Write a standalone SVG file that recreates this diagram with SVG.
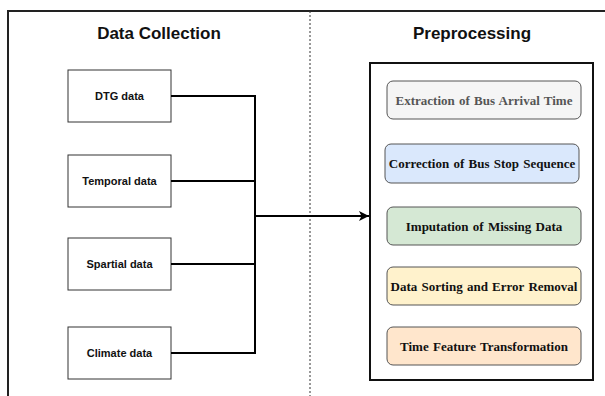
<svg xmlns="http://www.w3.org/2000/svg" width="605" height="396" viewBox="0 0 605 396">
<defs>
<marker id="arr" viewBox="0 0 10 10" refX="10" refY="5" markerWidth="10" markerHeight="10" markerUnits="userSpaceOnUse" orient="auto">
<path d="M0,0 L10,5 L0,10 L2.5,5 Z" fill="#000"/>
</marker>
<style>
.title{font-family:"Liberation Sans",Arial,sans-serif;font-weight:bold;font-size:17px;fill:#111;text-anchor:middle}
.src rect{fill:#fff;stroke:#333;stroke-width:1}
.src text{font-family:"Liberation Sans",Arial,sans-serif;font-weight:bold;font-size:11px;fill:#111;text-anchor:middle}
.step rect{stroke:#555;stroke-width:1}
.step text{font-family:"Liberation Serif","Times New Roman",serif;font-weight:bold;font-size:13px;word-spacing:1px;fill:#111;text-anchor:middle}
.conn{fill:none;stroke:#000;stroke-width:2}
</style>
</defs>
<rect width="605" height="396" fill="#fff"/>
<path d="M8,396 L8,11 L605,11" fill="none" stroke="#222" stroke-width="2"/>
<line x1="310" y1="11" x2="310" y2="396" stroke="#333" stroke-width="1" stroke-dasharray="2,2"/>
<text class="title" x="159" y="39">Data Collection</text>
<text class="title" x="472" y="39">Preprocessing</text>

<g id="dtg" class="src"><rect x="68" y="70" width="103" height="52"/><text x="119.5" y="100">DTG data</text></g>
<g id="temporal" class="src"><rect x="68" y="155" width="103" height="52"/><text x="119.5" y="185">Temporal data</text></g>
<g id="spatial" class="src"><rect x="68" y="238" width="103" height="52"/><text x="119.5" y="268">Spartial data</text></g>
<g id="climate" class="src"><rect x="68" y="327" width="103" height="52"/><text x="119.5" y="357">Climate data</text></g>

<g id="preprocessing">
<rect x="370" y="63" width="223" height="317" fill="#fff" stroke="#111" stroke-width="2"/>
</g>
<g id="extraction" class="step"><rect x="387" y="81" width="194" height="38" rx="6" fill="#f5f5f5"/><text x="484" y="104.5" style="fill:#555">Extraction of Bus Arrival Time</text></g>
<g id="correction" class="step"><rect x="385" y="144" width="194" height="39" rx="6" fill="#dae8fc"/><text x="482" y="168">Correction of Bus Stop Sequence</text></g>
<g id="imputation" class="step"><rect x="387" y="207" width="194" height="38" rx="6" fill="#d5e8d4"/><text x="484" y="230.5">Imputation of Missing Data</text></g>
<g id="sorting" class="step"><rect x="387" y="267" width="194" height="38" rx="6" fill="#fff2cc"/><text x="484" y="290.5">Data Sorting and Error Removal</text></g>
<g id="timefeature" class="step"><rect x="387" y="327" width="194" height="38" rx="6" fill="#ffe6cc"/><text x="484" y="350.5">Time Feature Transformation</text></g>

<g id="connectors">
<path class="conn" d="M171,96 L255,96 L255,353 L171,353"/>
<path class="conn" d="M171,181 L255,181"/>
<path class="conn" d="M171,264 L255,264"/>
<path class="conn" d="M255,216 L369,216" marker-end="url(#arr)"/>
</g>
</svg>
